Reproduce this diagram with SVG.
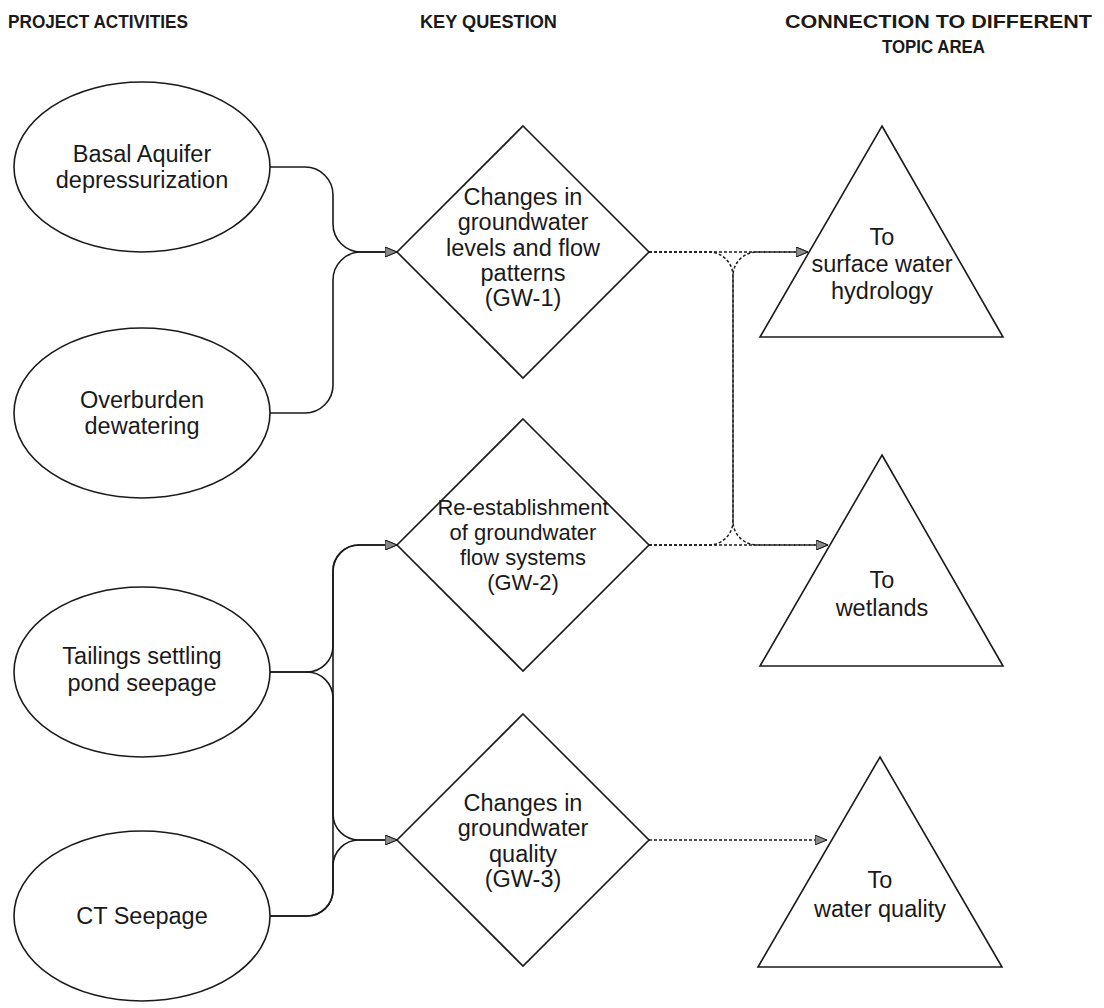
<svg xmlns="http://www.w3.org/2000/svg" width="1104" height="1008" viewBox="0 0 1104 1008">
  <style>
    .shape { fill: #ffffff; stroke: #1a1a1a; stroke-width: 1.6; }
    .lbl { font-family: "Liberation Sans", Arial, sans-serif; font-size: 23.5px; fill: #1a1a1a; text-anchor: middle; }
    .small { font-size: 22px; }
    .head { font-family: "Liberation Sans", Arial, sans-serif; font-size: 19px; font-weight: bold; fill: #1a1a1a; }
    .solid { fill: none; stroke: #1a1a1a; stroke-width: 1.6; marker-end: url(#arrow); }
    .dot { fill: none; stroke: #1a1a1a; stroke-width: 1.5; stroke-dasharray: 3 2; marker-end: url(#arrow); }
  </style>
  <defs>
    <marker id="arrow" viewBox="0 0 12 10" refX="12" refY="5" markerWidth="12" markerHeight="10" markerUnits="userSpaceOnUse" orient="auto">
      <path d="M0,0 L12,5 L0,10 Z" fill="#8a8a8a" stroke="#1a1a1a" stroke-width="1"/>
    </marker>
  </defs>
  <rect width="1104" height="1008" fill="#ffffff"/>

  <!-- column headings -->
  <g id="headings">
    <text class="head" x="8" y="28" textLength="180" lengthAdjust="spacingAndGlyphs">PROJECT ACTIVITIES</text>
    <text class="head" x="420" y="28" textLength="137" lengthAdjust="spacingAndGlyphs">KEY QUESTION</text>
    <text class="head" x="785" y="28" textLength="307" lengthAdjust="spacingAndGlyphs">CONNECTION TO DIFFERENT</text>
    <text class="head" x="882" y="53" textLength="103" lengthAdjust="spacingAndGlyphs">TOPIC AREA</text>
  </g>

  <!-- connectors -->
  <g id="connectors">
    <!-- activities to key questions -->
    <path class="solid" d="M270,167 H305 A28,28 0 0 1 333,195 V224 A28,28 0 0 0 361,252 H397"/>
    <path class="solid" d="M270,413 H305 A28,28 0 0 0 333,385 V280 A28,28 0 0 1 361,252 H397"/>
    <path class="solid" d="M270,672 H307 A26,26 0 0 0 333,646 V571 A26,26 0 0 1 359,545 H397"/>
    <path class="solid" d="M270,672 H307 A26,26 0 0 1 333,698 V814 A26,26 0 0 0 359,840 H397"/>
    <path class="solid" d="M270,916 H307 A26,26 0 0 0 333,890 V866 A26,26 0 0 1 359,840 H397"/>
    <path class="solid" d="M270,916 H307 A26,26 0 0 0 333,890 V571 A26,26 0 0 1 359,545 H397"/>
    <!-- key questions to topic areas -->
    <path class="dot" d="M649,252 H808"/>
    <path class="dot" d="M649,252 H709 A24,24 0 0 1 733,276 V521 A24,24 0 0 0 757,545 H828"/>
    <path class="dot" d="M649,545 H709 A24,24 0 0 0 733,521 V276 A24,24 0 0 1 757,252 H808"/>
    <path class="dot" d="M649,545 H828"/>
    <path class="dot" d="M649,840 H827"/>
  </g>

  <!-- project activities -->
  <g id="basal-aquifer">
    <ellipse class="shape" cx="142" cy="167" rx="128" ry="85"/>
    <text class="lbl" x="142" y="162">Basal Aquifer</text>
    <text class="lbl" x="142" y="188">depressurization</text>
  </g>
  <g id="overburden">
    <ellipse class="shape" cx="142" cy="413" rx="128" ry="85"/>
    <text class="lbl" x="142" y="408">Overburden</text>
    <text class="lbl" x="142" y="434">dewatering</text>
  </g>
  <g id="tailings">
    <ellipse class="shape" cx="142" cy="672" rx="128" ry="85"/>
    <text class="lbl" x="142" y="664">Tailings settling</text>
    <text class="lbl" x="142" y="691">pond seepage</text>
  </g>
  <g id="ct-seepage">
    <ellipse class="shape" cx="142" cy="916" rx="128" ry="85"/>
    <text class="lbl" x="142" y="924">CT Seepage</text>
  </g>

  <!-- key questions -->
  <g id="gw-1">
    <polygon class="shape" points="523,126 649,252 523,378 397,252"/>
    <text class="lbl" x="523" y="205">Changes in</text>
    <text class="lbl" x="523" y="230">groundwater</text>
    <text class="lbl" x="523" y="256">levels and flow</text>
    <text class="lbl" x="523" y="281">patterns</text>
    <text class="lbl" x="523" y="306">(GW-1)</text>
  </g>
  <g id="gw-2">
    <polygon class="shape" points="523,419 649,545 523,671 397,545"/>
    <text class="lbl small" x="523" y="515">Re-establishment</text>
    <text class="lbl small" x="523" y="540">of groundwater</text>
    <text class="lbl small" x="523" y="565">flow systems</text>
    <text class="lbl small" x="523" y="590">(GW-2)</text>
  </g>
  <g id="gw-3">
    <polygon class="shape" points="523,714 649,840 523,966 397,840"/>
    <text class="lbl" x="523" y="811">Changes in</text>
    <text class="lbl" x="523" y="836">groundwater</text>
    <text class="lbl" x="523" y="862">quality</text>
    <text class="lbl" x="523" y="887">(GW-3)</text>
  </g>

  <!-- topic areas -->
  <g id="surface-water">
    <polygon class="shape" points="882,126 1003,337 760,337"/>
    <text class="lbl" x="882" y="245">To</text>
    <text class="lbl" x="882" y="272">surface water</text>
    <text class="lbl" x="882" y="299">hydrology</text>
  </g>
  <g id="wetlands">
    <polygon class="shape" points="882,455 1003,666 760,666"/>
    <text class="lbl" x="882" y="588">To</text>
    <text class="lbl" x="882" y="616">wetlands</text>
  </g>
  <g id="water-quality">
    <polygon class="shape" points="880,757 1002,967 758,967"/>
    <text class="lbl" x="880" y="888">To</text>
    <text class="lbl" x="880" y="917">water quality</text>
  </g>
</svg>
